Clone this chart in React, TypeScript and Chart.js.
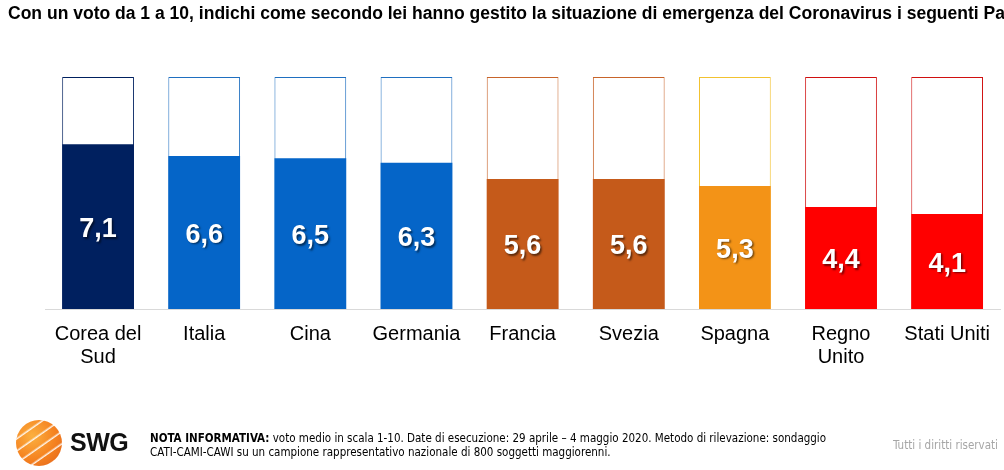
import React, { useEffect, useRef, useMemo } from "react";
import { Chart, registerables } from "chart.js";

Chart.register(...registerables);

const titleText =
  "Con un voto da 1 a 10, indichi come secondo lei hanno gestito la situazione di emergenza del Coronavirus i seguenti Paesi";
const categories: (string | string[])[] = [
  ["Corea del", "Sud"],
  "Italia",
  "Cina",
  "Germania",
  "Francia",
  "Svezia",
  "Spagna",
  ["Regno", "Unito"],
  "Stati Uniti",
];
const values = [7.1, 6.6, 6.5, 6.3, 5.6, 5.6, 5.3, 4.4, 4.1];
const scaleMax = [10, 10, 10, 10, 10, 10, 10, 10, 10];
const fillColors = [
  "#00205F",
  "#0565C8",
  "#0565C8",
  "#0565C8",
  "#C55A1A",
  "#C55A1A",
  "#F39317",
  "#FF0000",
  "#FF0000",
];
const outlineColors = [
  "#00205F",
  "#1F6FC0",
  "#1F6FC0",
  "#1F6FC0",
  "#C8642A",
  "#C8642A",
  "#F2C230",
  "#D01010",
  "#D01010",
];

const TITLE_FONT = "bold 18px 'Liberation Sans', Arial, sans-serif";

const valueLabels = {
  id: "valueLabels",
  afterDatasetsDraw(chart: any) {
    const meta = chart.getDatasetMeta(0);
    const ctx = chart.ctx;
    ctx.save();
    ctx.font = "bold 27px 'Liberation Sans', Arial, sans-serif";
    ctx.textAlign = "center";
    ctx.textBaseline = "middle";
    ctx.shadowColor = "rgba(0,0,0,0.55)";
    ctx.shadowOffsetX = 1.5;
    ctx.shadowOffsetY = 1.5;
    ctx.shadowBlur = 2;
    ctx.fillStyle = "#FFFFFF";
    meta.data.forEach((bar: any, i: number) => {
      const p = bar.getProps(["x", "y", "base"], true);
      const txt = values[i].toFixed(1).replace(".", ",");
      ctx.fillText(txt, p.x, (p.y + p.base) / 2 + 3);
    });
    ctx.restore();
  },
};

function BarChart() {
  const ref = useRef<HTMLCanvasElement | null>(null);
  useEffect(() => {
    if (!ref.current) return;
    const chart = new Chart(ref.current, {
      type: "bar",
      data: {
        labels: categories,
        datasets: [
          {
            label: "Voto medio",
            data: values,
            backgroundColor: fillColors,
            borderWidth: 0,
            grouped: false,
            order: 1,
            barPercentage: 0.676,
            categoryPercentage: 1,
          },
          {
            label: "Scala",
            data: scaleMax,
            backgroundColor: "#FFFFFF",
            borderColor: outlineColors,
            borderWidth: 1,
            grouped: false,
            order: 2,
            barPercentage: 0.676,
            categoryPercentage: 1,
          },
        ],
      },
      options: {
        animation: false,
        responsive: false,
        maintainAspectRatio: false,
        layout: { padding: { left: 45, right: 1, top: 77, bottom: 101 } },
        plugins: {
          legend: { display: false },
          tooltip: { enabled: false },
          title: { display: false },
        },
        scales: {
          y: { display: false, min: 0, max: 10 },
          x: {
            grid: { display: false, drawTicks: false },
            border: { display: true, color: "#D9D9D9", width: 1 },
            ticks: {
              color: "#000000",
              padding: 14,
              maxRotation: 0,
              autoSkip: false,
              font: { family: "'Liberation Sans', Arial, sans-serif", size: 20, lineHeight: 1.15 },
            },
            afterFit: (scale: any) => {
              scale.height = 60;
            },
          },
        },
      },
      plugins: [valueLabels],
    });
    return () => chart.destroy();
  }, []);
  return (
    <canvas
      ref={ref}
      width={1004}
      height={470}
      style={{ position: "absolute", left: 0, top: 0, width: 1004, height: 470 }}
    />
  );
}

export default function App() {
  const titleScale = useMemo(() => {
    const c = document.createElement("canvas");
    const ctx = c.getContext("2d");
    if (!ctx) return 0.8;
    ctx.font = TITLE_FONT;
    const visible = titleText.slice(0, titleText.indexOf("Paesi") + 2);
    const w = ctx.measureText(visible).width;
    return 997 / w;
  }, []);
  return (
    <div
      style={{
        position: "fixed",
        left: 0,
        top: 0,
        width: 1004,
        height: 470,
        overflow: "hidden",
        background: "#FFFFFF",
        fontFamily: "'Liberation Sans', Arial, sans-serif",
      }}
    >
      <BarChart />
      <div
        style={{
          position: "absolute",
          left: 8,
          top: 3,
          whiteSpace: "nowrap",
          font: TITLE_FONT,
          color: "#000",
          lineHeight: "20px",
          transform: `scaleX(${titleScale})`,
          transformOrigin: "0 0",
        }}
      >
        {titleText}
      </div>
      <div
        style={{
          position: "absolute",
          left: 16,
          top: 420,
          width: 46,
          height: 46,
          borderRadius: "50%",
          background:
            "repeating-linear-gradient(-35deg, rgba(255,255,255,0) 0px, rgba(255,255,255,0) 7px, rgba(255,255,255,0.9) 8px, rgba(255,255,255,0) 10px), radial-gradient(circle at 35% 35%, #FBB040 0%, #F58220 55%, #E0601A 100%)",
        }}
      />
      <div
        style={{
          position: "absolute",
          left: 70,
          top: 428,
          fontWeight: "bold",
          fontSize: 25,
          color: "#111",
          lineHeight: "28px",
          letterSpacing: -0.5,
        }}
      >
        SWG
      </div>
      <div
        style={{
          position: "absolute",
          left: 150,
          top: 431,
          fontFamily: "'Liberation Sans Narrow', 'Arial Narrow', 'DejaVu Sans Condensed', sans-serif",
          fontSize: 11.5,
          lineHeight: "14px",
          color: "#000",
          whiteSpace: "nowrap",
        }}
      >
        <div>
          <b>NOTA INFORMATIVA:</b> voto medio in scala 1-10. Date di esecuzione: 29 aprile – 4 maggio 2020. Metodo di
          rilevazione: sondaggio
        </div>
        <div>CATI-CAMI-CAWI su un campione rappresentativo nazionale di 800 soggetti maggiorenni.</div>
      </div>
      <div
        style={{
          position: "absolute",
          left: 893,
          top: 438,
          fontFamily: "'Liberation Sans Narrow', 'Arial Narrow', 'DejaVu Sans Condensed', sans-serif",
          fontSize: 11.5,
          lineHeight: "14px",
          color: "#A6A6A6",
          whiteSpace: "nowrap",
        }}
      >
        Tutti i diritti riservati
      </div>
    </div>
  );
}
